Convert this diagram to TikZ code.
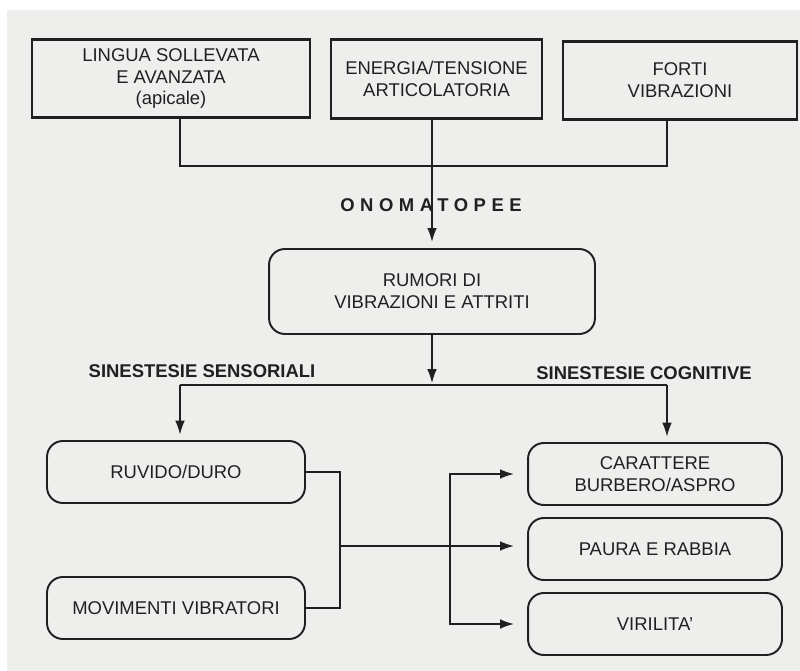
\documentclass[tikz,border=0pt]{standalone}
\usepackage{fontspec}
\setmainfont{Liberation Sans}
\usetikzlibrary{positioning,arrows.meta}
\definecolor{pagegray}{RGB}{238,238,237}
\definecolor{ink}{RGB}{32,32,32}

\begin{document}
\begin{tikzpicture}[
  x=0.02cm, y=-0.02cm,
  sqbox/.style={
    draw=ink, line width=1.6pt,
    inner sep=0pt, minimum height=1.57cm,
    font=\fontsize{10.5}{12.5}\selectfont, text=ink, align=center
  },
  rbox/.style={
    draw=ink, line width=1.1pt, rounded corners=9pt,
    inner sep=0pt, minimum height=1.24cm,
    font=\fontsize{10.5}{12.5}\selectfont, text=ink, align=center
  },
  lbl/.style={font=\bfseries\fontsize{10.5}{12}\selectfont, text=ink},
  link/.style={draw=ink, line width=1pt},
  tip/.style={-{Latex[length=8pt,width=5.5pt]}},
  arr/.style={link, tip}
]
\useasboundingbox (0,0) rectangle (800,671);
\fill[pagegray] (7,10) rectangle (800,671);

% --- Origins ---
\node[sqbox, minimum width=5.56cm] (lingua) at (171,78.5)
  {LINGUA SOLLEVATA\\E AVANZATA\\(apicale)};
\node[sqbox, minimum width=4.22cm] (energia) at (436.5,79)
  {ENERGIA/TENSIONE\\ARTICOLATORIA};
\node[sqbox, minimum width=4.68cm] (forti) at (680,80.5)
  {FORTI\\VIBRAZIONI};

\coordinate (jl) at (180,166);
\coordinate (jr) at (667,166);
\draw[link] (lingua.south -| jl) -- (jl) -- (jr) -- (forti.south -| jr);

% --- Onomatopee ---
\node[lbl, font=\bfseries\fontsize{10.5}{12}\selectfont\addfontfeatures{LetterSpace=30}]
  (onom) at (431,205) {ONOMATOPEE};
\node[rbox, minimum width=6.52cm, minimum height=1.7cm] (rumori) at (432,291.5)
  {RUMORI DI\\VIBRAZIONI E ATTRITI};
\draw[arr, shorten >=3.4pt] (energia.south -| rumori.north) -- (rumori.north);

% --- Split ---
\coordinate (sl) at (180,385);
\coordinate (sr) at (667,385);
\node[lbl] (sens) at (202,371) {SINESTESIE SENSORIALI};
\node[lbl] (cogn) at (644,373) {SINESTESIE COGNITIVE};
\draw[arr, shorten >=1pt] (rumori.south) -- (rumori.south |- sl);
\draw[link] (sl) -- (sr);

% --- Sensoriali ---
\node[rbox, minimum width=5.16cm] (ruvido) at (176,472) {RUVIDO/DURO};
\node[rbox, minimum width=5.16cm] (movimenti) at (176,608) {MOVIMENTI VIBRATORI};
\draw[arr, shorten >=3pt] (sl) -- (ruvido.north -| sl);

\coordinate (jm) at (340,546);
\draw[link] (ruvido.east) -| (jm) |- (movimenti.east);

% --- Cognitive ---
\foreach \t [count=\i] in {{CARATTERE\\BURBERO/ASPRO},PAURA E RABBIA,VIRILITA'} {
  \node[rbox, minimum width=5.08cm] (cog\i) at (655,{474+75*(\i-1)}) {\t};
}
\draw[arr, shorten >=3pt] (sr) -- (cog1.north -| sr);

\coordinate (jc) at (450,546);
\draw[link, {Latex[length=8pt,width=5.5pt]}-{Latex[length=8pt,width=5.5pt]},
  shorten <=7.4pt, shorten >=7.4pt] (cog1.west) -| (jc) |- (cog3.west);
\draw[arr, shorten >=7.4pt] (jm) -- (cog2.west |- jm);

\end{tikzpicture}
\end{document}
